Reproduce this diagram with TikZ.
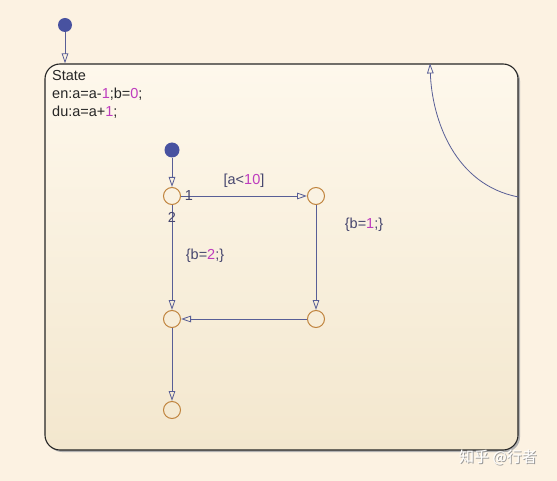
\documentclass[tikz,border=0pt]{standalone}
\usepackage{fontspec}
\setmainfont{Liberation Sans}
\newfontfamily\cjk{Noto Sans CJK SC}
\usetikzlibrary{arrows.meta,shadows}
\definecolor{bg}{RGB}{252,242,226}
\definecolor{boxtop}{RGB}{254,248,236}
\definecolor{boxbot}{RGB}{243,231,206}
\definecolor{dotc}{RGB}{72,82,160}
\definecolor{jc}{RGB}{192,132,62}
\definecolor{tc}{RGB}{88,94,150}
\definecolor{lc}{RGB}{70,70,110}
\definecolor{num}{RGB}{190,60,190}
\newcommand{\nm}[1]{\textcolor{num}{#1}}
\tikzset{
  dotnode/.style={circle,fill=dotc,inner sep=0pt,minimum size=14pt},
  junc/.style={circle,draw=jc,line width=1pt,inner sep=0pt,minimum size=17pt},
  trans/.style={draw=tc,line width=0.8pt,-{Triangle[open,length=10pt,width=6.5pt]}},
  lbl/.style={text=lc,font=\fontsize{14.5pt}{17pt}\selectfont,inner sep=1pt},
}
\begin{document}
\begin{tikzpicture}[x=1pt,y=-1pt]
\fill[bg] (0,0) rectangle (557,481);
\useasboundingbox (0,0) rectangle (557,481);
% shadow
\fill[black!30,rounded corners=15pt] (47,66) rectangle (520,452);
\node[draw=black!85,line width=1.1pt,rounded corners=15pt,top color=boxtop,bottom color=boxbot,
  minimum width=473pt,minimum height=386pt,inner sep=0pt] (state) at (281.5,257) {};
% default transition to State
\node[dotnode] (d0) at (65,25) {};
\draw[trans] (d0) -- (d0 |- state.north);
% state text
\node[anchor=north west,align=left,text=black!85,font=\fontsize{14.5pt}{18pt}\selectfont,inner sep=0pt] (txt) at (52,70.5)
  {State\\en:a=a-\nm{1};b=\nm{0};\\du:a=a+\nm{1};};
% junctions
\node[junc] (j1) at (172,196) {};
\node[junc] (j2) at (316,196) {};
\node[junc] (j3) at (172,319) {};
\node[junc] (j4) at (316,319) {};
\node[junc] (j5) at (172,410) {};
\node[dotnode,minimum size=15pt] (d1) at (172,150) {};
\draw[trans] (d1) -- (j1);
\draw[trans] (j1) -- node[lbl,above=7pt] (l1) {[a<\nm{10}]} (j2);
\draw[trans] (j2) -- (j4);
\draw[trans] (j1) -- (j3);
\draw[trans] (j4) -- (j3);
\draw[trans] (j3) -- (j5);
\node[lbl] (n1) at (189,196) {1};
\node[lbl] (n2) at (172,217) {2};
\node[lbl] (l2) at (364,225) {\{b=\nm{1};\}};
\node[lbl] (l3) at (205,256) {\{b=\nm{2};\}};
% self transition
\coordinate (s0) at (state.east |- 0,197);
\coordinate (s1) at (430,0 |- state.north);
\draw[trans] (s0) .. controls (455,185) and (432,120) .. (s1);
% watermark
\node[text=black!40,font=\cjk\fontsize{15pt}{15pt}\selectfont] (wm0) at (499,458) {知乎 @行者};
\node[text=white,font=\cjk\fontsize{15pt}{15pt}\selectfont] (wm) at (498,457) {知乎 @行者};
\end{tikzpicture}
\end{document}
